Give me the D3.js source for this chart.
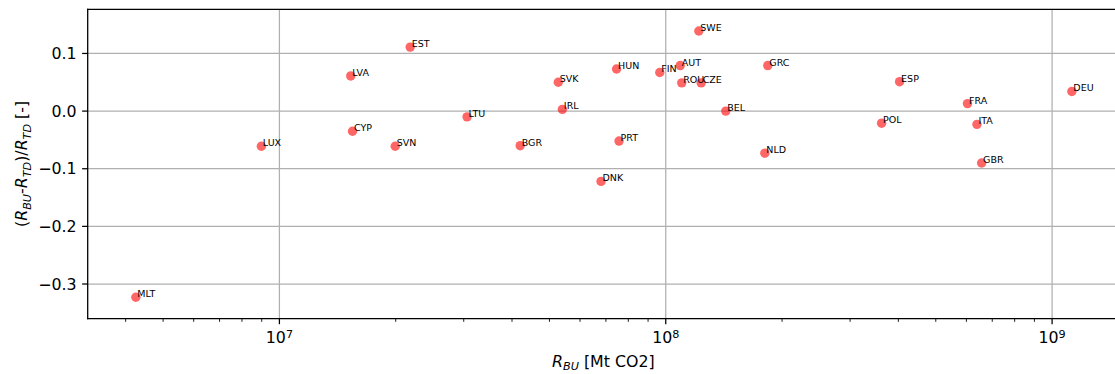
<!DOCTYPE html>
<html>
<head>
<meta charset="utf-8">
<script src="https://cdn.jsdelivr.net/npm/d3@7"></script>
<style>
  html, body { margin: 0; padding: 0; background: #fff; }
  svg { display: block; font-family: "DejaVu Sans", sans-serif; }
</style>
</head>
<body>
<svg id="chart" width="1115" height="374"></svg>
<script>
// Country codes, bottom-up emissions (x) and relative deviation from top-down (y)
const countries = ["MLT","LUX","LVA","CYP","EST","SVN","LTU","BGR","SVK","IRL","HUN","PRT","DNK","FIN","AUT","ROU","CZE","SWE","BEL","GRC","NLD","POL","ESP","FRA","ITA","GBR","DEU"];
const rBU = [4.25e6, 8.98e6, 1.53e7, 1.546e7, 2.18e7, 1.994e7, 3.06e7, 4.2e7, 5.27e7, 5.4e7, 7.46e7, 7.57e7, 6.8e7, 9.65e7, 1.09e8, 1.1e8, 1.235e8, 1.218e8, 1.43e8, 1.837e8, 1.805e8, 3.62e8, 4.03e8, 6.04e8, 6.39e8, 6.57e8, 1.125e9];
const relDiff = [-0.323, -0.061, 0.061, -0.035, 0.111, -0.061, -0.010, -0.060, 0.050, 0.003, 0.073, -0.052, -0.122, 0.067, 0.079, 0.049, 0.049, 0.139, 0.000, 0.079, -0.073, -0.021, 0.051, 0.013, -0.023, -0.090, 0.034];
const yTicks = [0.1, 0.0, -0.1, -0.2, -0.3];
const xTicks = [1e7, 1e8, 1e9];

const svg = d3.select("#chart");
const m = { left: 87.7, right: 1119, top: 9.3, bottom: 318.6 };

const x = d3.scaleLog().domain([3.19e6, 1.49e9]).range([m.left, m.right]);
const y = d3.scaleLinear().domain([-0.36, 0.1766]).range([m.bottom, m.top]);

const gridColor = "#b0b0b0";
const tickFont = 15.8;

// clip to the plotting area
svg.append("defs").append("clipPath").attr("id", "plotArea")
  .append("rect").attr("x", m.left).attr("y", m.top).attr("width", m.right - m.left).attr("height", m.bottom - m.top);

// grid lines at major ticks
const grid = svg.append("g").attr("clip-path", "url(#plotArea)");
grid.selectAll("line.gy").data(yTicks).enter().append("line")
  .attr("x1", m.left).attr("x2", m.right)
  .attr("y1", d => y(d)).attr("y2", d => y(d))
  .attr("stroke", gridColor).attr("stroke-width", 1.25);
grid.selectAll("line.gx").data(xTicks).enter().append("line")
  .attr("x1", d => x(d)).attr("x2", d => x(d))
  .attr("y1", m.top).attr("y2", m.bottom)
  .attr("stroke", gridColor).attr("stroke-width", 1.25);

// scatter points
const pts = countries.map((c, i) => ({ c, x: rBU[i], y: relDiff[i] }));
const plot = svg.append("g").attr("clip-path", "url(#plotArea)");
plot.selectAll("circle").data(pts).enter().append("circle")
  .attr("cx", d => x(d.x)).attr("cy", d => y(d.y)).attr("r", 4.7)
  .attr("fill", "red").attr("fill-opacity", 0.6);

// country annotations, baseline at the data point
plot.selectAll("text").data(pts).enter().append("text")
  .attr("x", d => x(d.x) + 1.5).attr("y", d => y(d.y))
  .attr("font-size", 9.5).attr("fill", "#000")
  .text(d => d.c);

// y axis ticks
const yAxis = svg.append("g");
yTicks.forEach(t => {
  const py = y(t);
  yAxis.append("line").attr("x1", m.left - 5.6).attr("x2", m.left).attr("y1", py).attr("y2", py)
    .attr("stroke", "#000").attr("stroke-width", 1.25);
  yAxis.append("text").attr("x", m.left - 11.2).attr("y", py).attr("dy", "0.36em")
    .attr("text-anchor", "end").attr("font-size", tickFont)
    .text(d3.format(".1f")(t).replace("-", "\u2212"));
});

// x axis: major and minor log ticks
const xAxis = svg.append("g");
const minor = [];
for (let e = 6; e <= 9; e++) for (let k = 2; k <= 9; k++) {
  const v = k * Math.pow(10, e);
  if (v >= x.domain()[0] && v <= x.domain()[1]) minor.push(v);
}
minor.forEach(v => {
  const px = x(v);
  xAxis.append("line").attr("x1", px).attr("x2", px).attr("y1", m.bottom).attr("y2", m.bottom + 3.2)
    .attr("stroke", "#000").attr("stroke-width", 0.9);
});
xTicks.forEach(v => {
  const px = x(v);
  xAxis.append("line").attr("x1", px).attr("x2", px).attr("y1", m.bottom).attr("y2", m.bottom + 5.6)
    .attr("stroke", "#000").attr("stroke-width", 1.25);
  const t = xAxis.append("text").attr("x", px).attr("y", 342.7).attr("text-anchor", "middle").attr("font-size", tickFont);
  t.append("tspan").text("10");
  t.append("tspan").attr("font-size", 11.2).attr("dy", -5.2).text(Math.round(Math.log10(v)));
});

// spines
const spine = (x1, y1, x2, y2) => svg.append("line")
  .attr("x1", x1).attr("y1", y1).attr("x2", x2).attr("y2", y2)
  .attr("stroke", "#000").attr("stroke-width", 1.3).attr("stroke-linecap", "square");
spine(m.left, m.top, m.left, m.bottom);
spine(m.left, m.top, m.right, m.top);
spine(m.left, m.bottom, m.right, m.bottom);
spine(m.right, m.top, m.right, m.bottom);

// axis titles with italic R and subscripts
const subFont = 11.2;
const xl = svg.append("text").attr("x", (m.left + m.right) / 2).attr("y", 366.7)
  .attr("text-anchor", "middle").attr("font-size", tickFont);
xl.append("tspan").attr("font-style", "italic").text("R");
xl.append("tspan").attr("font-style", "italic").attr("font-size", subFont).attr("dy", 3.3).text("BU");
xl.append("tspan").attr("dy", -3.3).text(" [Mt CO2]");

const cy = (m.top + m.bottom) / 2;
const yl = svg.append("text").attr("transform", `translate(27.3,${cy}) rotate(-90)`)
  .attr("text-anchor", "middle").attr("font-size", tickFont);
yl.append("tspan").text("(");
yl.append("tspan").attr("font-style", "italic").text("R");
yl.append("tspan").attr("font-style", "italic").attr("font-size", subFont).attr("dy", 3.3).text("BU");
yl.append("tspan").attr("dy", -3.3).text("-");
yl.append("tspan").attr("font-style", "italic").text("R");
yl.append("tspan").attr("font-style", "italic").attr("font-size", subFont).attr("dy", 3.3).text("TD");
yl.append("tspan").attr("dy", -3.3).text(")/");
yl.append("tspan").attr("font-style", "italic").text("R");
yl.append("tspan").attr("font-style", "italic").attr("font-size", subFont).attr("dy", 3.3).text("TD");
yl.append("tspan").attr("dy", -3.3).text(" [-]");
</script>
</body>
</html>
